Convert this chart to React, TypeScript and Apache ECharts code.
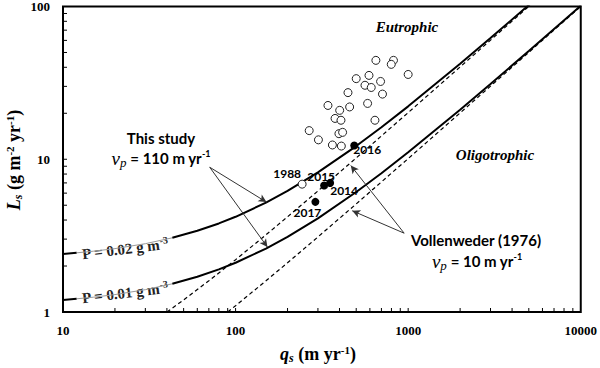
import React, { useEffect, useRef } from "react";
import * as echarts from "echarts";

// ---- data ----
const qsCurve = [10, 12, 15, 20, 30, 43, 60, 80, 100, 150, 200, 300, 500, 700, 1000, 2000, 3000, 5000, 10000];
const curveP002 = [2.4, 2.44, 2.5, 2.6, 2.8, 3.06, 3.4, 3.8, 4.2, 5.2, 6.2, 8.2, 12.2, 16.2, 22.2, 42.2, 62.2, 102.2, 202.2];
const curveP001 = [1.2, 1.22, 1.25, 1.3, 1.4, 1.53, 1.7, 1.9, 2.1, 2.6, 3.1, 4.1, 6.1, 8.1, 11.1, 21.1, 31.1, 51.1, 101.1];
const grayFrom = 12;
const grayTo = 43;

const qsDash002 = [40, 50, 70, 100, 150, 200, 300, 500, 1000, 2000, 5000];
const dash002 = [1.0, 1.2, 1.6, 2.2, 3.2, 4.2, 6.2, 10.2, 20.2, 40.2, 100.2];
const qsDash001 = [90, 100, 150, 200, 300, 500, 1000, 2000, 5000, 10000];
const dash001 = [1.0, 1.1, 1.6, 2.1, 3.1, 5.1, 10.1, 20.1, 50.1, 100.1];

const openQs = [650, 822, 798, 1000, 593, 500, 692, 562, 611, 448, 710, 343, 582, 401, 458, 377, 408, 642, 267, 397, 417, 302, 364, 410];
const openLs = [44.4, 44.4, 41.8, 35.9, 35.4, 33.7, 32.3, 30.5, 29.5, 27.3, 26.7, 22.5, 23.2, 20.9, 22.0, 18.5, 18.0, 18.0, 15.4, 14.7, 15.0, 13.4, 12.4, 12.2];

const yearOpenQs = [243];
const yearOpenLs = [6.87];
const yearOpenNames = ["1988"];

const yearFilledQs = [487, 326, 353, 290];
const yearFilledLs = [12.3, 6.73, 7.0, 5.26];
const yearFilledNames = ["2016", "2015", "2014", "2017"];

const arrowStarts = [[70.8, 8.87], [70.8, 8.87], [948, 3.28], [948, 3.28]];
const arrowEnds = [[151, 5.24], [153, 2.66], [474, 4.6], [465, 9.1]];

const xTickValues = [20, 30, 40, 50, 60, 70, 80, 90, 100, 200, 300, 400, 500, 600, 700, 800, 900, 1000, 2000, 3000, 4000, 5000, 6000, 7000, 8000, 9000];
const yTickValues = [2, 3, 4, 5, 6, 7, 8, 9, 10, 20, 30, 40, 50, 60, 70, 80, 90];

// label offsets for year labels (styling)
const yearOffsets: Record<string, number[]> = {
  "1988": [-15, -11],
  "2016": [13, 4],
  "2015": [-3, -9],
  "2014": [14, 8],
  "2017": [-8, 11],
};

const serif = "Liberation Serif";
const sans = "Lato";

function pairs(xs: number[], ys: number[]) {
  return xs.map((x, i) => [x, ys[i]]);
}

function splitCurve(ys: number[]) {
  const a: number[][] = [];
  const g: number[][] = [];
  const b: number[][] = [];
  qsCurve.forEach((q, i) => {
    if (q <= grayFrom) a.push([q, ys[i]]);
    if (q >= grayFrom && q <= grayTo) g.push([q, ys[i]]);
    if (q >= grayTo) b.push([q, ys[i]]);
  });
  return { a, g, b };
}

export default function App() {
  const ref = useRef<HTMLDivElement>(null);
  useEffect(() => {
    if (!ref.current) return;
    const chart = echarts.init(ref.current, undefined, { renderer: "svg" });
    const up = splitCurve(curveP002);
    const lo = splitCurve(curveP001);
    const solid = { color: "#000", width: 2 };
    const gray = { color: "#9a9a9a", width: 1 };
    const dashed = { color: "#000", width: 1.2, type: [4, 3] as any };

    const lineSeries = (data: number[][], lineStyle: any, extra: any = {}) => ({
      type: "line",
      data,
      showSymbol: false,
      symbol: "none",
      lineStyle,
      silent: true,
      z: 2,
      ...extra,
    });

    const yearLabel = (name: string) => ({
      show: true,
      formatter: name,
      position: "inside",
      offset: yearOffsets[name],
      fontFamily: sans,
      fontWeight: "bold",
      fontSize: 12,
      color: "#000",
      opacity: 1,
      textBorderWidth: 0,
      textBorderColor: "transparent",
    });

    const openStyle = { color: "#fff", borderColor: "#222", borderWidth: 1, opacity: 1 };

    const option: any = {
      animation: false,
      backgroundColor: "#fff",
      grid: {
        left: 63,
        right: 18,
        top: 6,
        bottom: 56,
        show: true,
        borderColor: "#000",
        borderWidth: 2,
        backgroundColor: "transparent",
      },
      xAxis: {
        type: "log",
        logBase: 10,
        min: 10,
        max: 10000,
        axisLine: { show: false },
        axisTick: { show: false },
        splitLine: { show: false },
        axisLabel: {
          fontFamily: serif,
          fontWeight: "bold",
          fontSize: 13,
          color: "#000",
          margin: 12,
          formatter: (v: number) => String(Math.round(v)),
        },
      },
      yAxis: {
        type: "log",
        logBase: 10,
        min: 1,
        max: 100,
        axisLine: { show: false },
        axisTick: { show: false },
        splitLine: { show: false },
        axisLabel: {
          fontFamily: serif,
          fontWeight: "bold",
          fontSize: 13,
          color: "#000",
          margin: 13,
          formatter: (v: number) => String(Math.round(v)),
        },
      },
      series: [
        lineSeries(up.a, solid),
        lineSeries(up.g, gray),
        lineSeries(up.b, solid, {
          markLine: {
            silent: true,
            symbol: ["none", "arrow"],
            symbolSize: [6, 8],
            label: { show: false },
            lineStyle: { color: "#333", width: 1, type: "solid" },
            data: arrowStarts.map((s, i) => [{ coord: s }, { coord: arrowEnds[i] }]),
          },
        }),
        lineSeries(lo.a, solid),
        lineSeries(lo.g, gray),
        lineSeries(lo.b, solid),
        lineSeries(pairs(qsDash002, dash002), dashed),
        lineSeries(pairs(qsDash001, dash001), dashed),
        {
          type: "scatter",
          data: pairs(openQs, openLs),
          symbol: "circle",
          symbolSize: 8,
          itemStyle: openStyle,
          silent: true,
          z: 4,
        },
        {
          type: "scatter",
          data: yearOpenQs.map((q, i) => ({ value: [q, yearOpenLs[i]], label: yearLabel(yearOpenNames[i]) })),
          symbol: "circle",
          symbolSize: 8,
          itemStyle: openStyle,
          silent: true,
          z: 4,
        },
        {
          type: "scatter",
          data: yearFilledQs.map((q, i) => ({ value: [q, yearFilledLs[i]], label: yearLabel(yearFilledNames[i]) })),
          symbol: "circle",
          symbolSize: 8,
          itemStyle: { color: "#000", opacity: 1 },
          silent: true,
          z: 5,
        },
        {
          type: "custom",
          data: xTickValues.map((v) => [v, 1]),
          encode: { x: 0, y: 1 },
          renderItem: (params: any, api: any) => {
            const v = api.value(0);
            const p = api.coord([v, 1]);
            return {
              type: "line",
              shape: { x1: p[0], y1: p[1], x2: p[0], y2: p[1] - 4 },
              style: { stroke: "#000", lineWidth: 1 },
            };
          },
          silent: true,
          z: 6,
        },
        {
          type: "custom",
          data: yTickValues.map((v) => [10, v]),
          encode: { x: 0, y: 1 },
          renderItem: (params: any, api: any) => {
            const v = api.value(1);
            const p = api.coord([10, v]);
            return {
              type: "line",
              shape: { x1: p[0], y1: p[1], x2: p[0] + 4, y2: p[1] },
              style: { stroke: "#000", lineWidth: 1 },
            };
          },
          silent: true,
          z: 6,
        },
      ],
      graphic: [
        {
          type: "text",
          x: 14,
          y: 160,
          rotation: Math.PI / 2,
          style: {
            text: "{L|L}{s|s}{t| (g m}{sup|-2}{t| yr}{sup|-1}{t|)}",
            align: "center",
            verticalAlign: "middle",
            rich: {
              L: { fontFamily: serif, fontWeight: "bold", fontStyle: "italic", fontSize: 18, fill: "#000" },
              s: { fontFamily: serif, fontWeight: "bold", fontStyle: "italic", fontSize: 12, fill: "#000", padding: [8, 0, 0, 0] },
              t: { fontFamily: serif, fontWeight: "bold", fontSize: 18, fill: "#000" },
              sup: { fontFamily: serif, fontWeight: "bold", fontSize: 11, fill: "#000", padding: [0, 0, 9, 0] },
            },
          },
        },
        {
          type: "text",
          x: 318,
          y: 354,
          style: {
            text: "{q|q}{s|s}{t| (m yr}{sup|-1}{t|)}",
            align: "center",
            verticalAlign: "middle",
            rich: {
              q: { fontFamily: serif, fontWeight: "bold", fontStyle: "italic", fontSize: 18, fill: "#000" },
              s: { fontFamily: serif, fontWeight: "bold", fontStyle: "italic", fontSize: 12, fill: "#000", padding: [8, 0, 0, 0] },
              t: { fontFamily: serif, fontWeight: "bold", fontSize: 18, fill: "#000" },
              sup: { fontFamily: serif, fontWeight: "bold", fontSize: 11, fill: "#000", padding: [0, 0, 9, 0] },
            },
          },
        },
        {
          type: "text",
          x: 407,
          y: 27,
          style: {
            text: "Eutrophic",
            align: "center",
            verticalAlign: "middle",
            fontFamily: serif,
            fontWeight: "bold",
            fontStyle: "italic",
            fontSize: 15,
            fill: "#000",
          },
        },
        {
          type: "text",
          x: 495,
          y: 155,
          style: {
            text: "Oligotrophic",
            align: "center",
            verticalAlign: "middle",
            fontFamily: serif,
            fontWeight: "bold",
            fontStyle: "italic",
            fontSize: 15,
            fill: "#000",
          },
        },
        {
          type: "text",
          x: 125,
          y: 249,
          rotation: 0.12,
          style: {
            text: "{t|P = 0.02 g m}{sup|-3}",
            align: "center",
            verticalAlign: "middle",
            rich: {
              t: { fontFamily: serif, fontWeight: "bold", fontSize: 15, fill: "#222" },
              sup: { fontFamily: serif, fontWeight: "bold", fontSize: 10, fill: "#222", padding: [0, 0, 8, 0] },
            },
          },
        },
        {
          type: "text",
          x: 125,
          y: 293,
          rotation: 0.12,
          style: {
            text: "{t|P = 0.01 g m}{sup|-3}",
            align: "center",
            verticalAlign: "middle",
            rich: {
              t: { fontFamily: serif, fontWeight: "bold", fontSize: 15, fill: "#222" },
              sup: { fontFamily: serif, fontWeight: "bold", fontSize: 10, fill: "#222", padding: [0, 0, 8, 0] },
            },
          },
        },
        {
          type: "text",
          x: 161,
          y: 138,
          style: {
            text: "This study",
            align: "center",
            verticalAlign: "middle",
            fontFamily: sans,
            fontWeight: "bold",
            fontSize: 15,
            fill: "#000",
          },
        },
        {
          type: "text",
          x: 161,
          y: 158,
          style: {
            text: "{v|v}{p|p}{t| = 110 m yr}{sup|-1}",
            align: "center",
            verticalAlign: "middle",
            rich: {
              v: { fontFamily: serif, fontStyle: "italic", fontSize: 19, fill: "#000" },
              p: { fontFamily: serif, fontStyle: "italic", fontSize: 13, fill: "#000", padding: [8, 0, 0, 0] },
              t: { fontFamily: sans, fontWeight: "bold", fontSize: 15, fill: "#000" },
              sup: { fontFamily: sans, fontWeight: "bold", fontSize: 9, fill: "#000", padding: [0, 0, 9, 0] },
            },
          },
        },
        {
          type: "text",
          x: 476,
          y: 240,
          style: {
            text: "Vollenweder (1976)",
            align: "center",
            verticalAlign: "middle",
            fontFamily: sans,
            fontWeight: "bold",
            fontSize: 15,
            fill: "#000",
          },
        },
        {
          type: "text",
          x: 477,
          y: 261,
          style: {
            text: "{v|v}{p|p}{t| = 10 m yr}{sup|-1}",
            align: "center",
            verticalAlign: "middle",
            rich: {
              v: { fontFamily: serif, fontStyle: "italic", fontSize: 19, fill: "#000" },
              p: { fontFamily: serif, fontStyle: "italic", fontSize: 13, fill: "#000", padding: [8, 0, 0, 0] },
              t: { fontFamily: sans, fontWeight: "bold", fontSize: 15, fill: "#000" },
              sup: { fontFamily: sans, fontWeight: "bold", fontSize: 9, fill: "#000", padding: [0, 0, 9, 0] },
            },
          },
        },
      ],
    };
    chart.setOption(option);
    return () => chart.dispose();
  }, []);
  return (
    <div
      ref={ref}
      style={{ position: "fixed", left: 0, top: 0, width: 600, height: 368, background: "#fff" }}
    />
  );
}
